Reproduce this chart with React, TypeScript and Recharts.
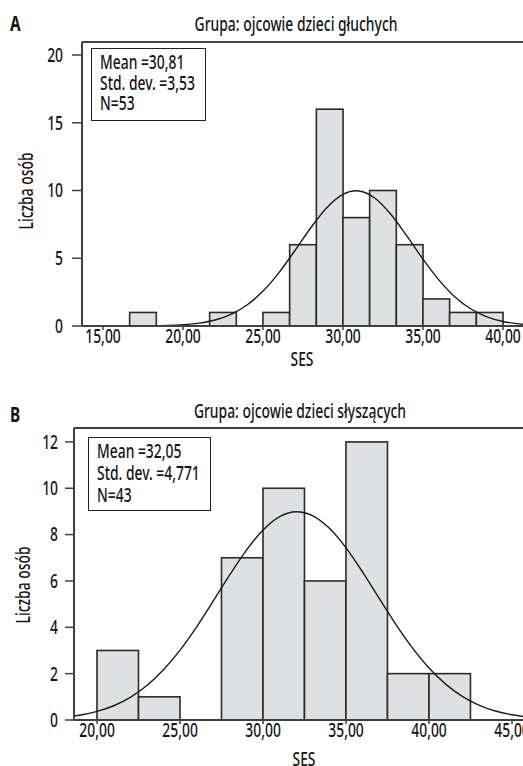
import { ComposedChart, Bar, Line, XAxis, YAxis, ReferenceLine } from 'recharts';

const FONT = "'Noto Sans', 'Open Sans', sans-serif";
const SX = 0.73; // squeeze to mimic the condensed face of the original
const FS = 19;
const FW = 500;
const INK = '#151515';
const AX = '#404040';
const BAR_FILL = '#dfe0e2';
const BAR_STROKE = '#2b2b2b';
const CHART_W = 560;

// --- A: ojcowie dzieci głuchych ---
const binWidthA = 5 / 3;
const binCentersA = [17.5, 22.5, 25.83, 27.5, 29.17, 30.83, 32.5, 34.17, 35.83, 37.5, 39.17];
const countsA = [1, 1, 1, 6, 16, 8, 10, 6, 2, 1, 1];
const curveXA = [14, 15, 16, 17, 18, 19, 20, 21, 22, 23, 24, 25, 26, 27, 28, 29, 30, 30.81, 31, 32, 33, 34, 35, 36, 37, 38, 39, 40, 41, 42, 43];
const curveYA = [0, 0, 0.002, 0.005, 0.014, 0.037, 0.092, 0.21, 0.443, 0.863, 1.552, 2.575, 3.944, 5.574, 7.269, 8.75, 9.72, 9.98, 9.965, 9.43, 8.23, 6.63, 4.934, 3.386, 2.145, 1.254, 0.677, 0.336, 0.155, 0.066, 0.026];
const ticksXA = [15, 20, 25, 30, 35, 40];
const ticksYA = [0, 5, 10, 15, 20];

// --- B: ojcowie dzieci słyszących ---
const binWidthB = 2.5;
const binCentersB = [21.25, 23.75, 28.75, 31.25, 33.75, 36.25, 38.75, 41.25];
const countsB = [3, 1, 7, 10, 6, 12, 2, 2];
const curveXB = [18.61, 19, 20, 21, 22, 23, 24, 25, 26, 27, 28, 29, 30, 31, 32, 33, 34, 35, 36, 37, 38, 39, 40, 41, 42, 43, 44, 45, 46, 47, 48];
const curveYB = [0.17, 0.213, 0.37, 0.615, 0.978, 1.488, 2.166, 3.018, 4.023, 5.135, 6.27, 7.328, 8.196, 8.774, 8.989, 8.813, 8.269, 7.425, 6.381, 5.248, 4.13, 3.112, 2.243, 1.548, 1.022, 0.646, 0.39, 0.226, 0.125, 0.066, 0.034];
const ticksXB = [20, 25, 30, 35, 40, 45];
const ticksYB = [0, 2, 4, 6, 8, 10, 12];

const histA = binCentersA.map((x, i) => ({ x, count: countsA[i] }));
const lineA = curveXA.map((x, i) => ({ x, y: curveYA[i] }));
const histB = binCentersB.map((x, i) => ({ x, count: countsB[i] }));
const lineB = curveXB.map((x, i) => ({ x, y: curveYB[i] }));

const fmt = (v: number) => v.toFixed(2).replace('.', ',');

const SText = ({ x, y, anchor, dy, rotate, children }: any) => (
  <text transform={`translate(${x},${y})${rotate ? ' rotate(-90)' : ''} scale(${SX},1)`} x={0} y={0} dy={dy}
    textAnchor={anchor} fontSize={FS} fontWeight={FW} fontFamily={FONT} fill={INK}>{children}</text>
);

const XTick = ({ x, y, payload }: any) => <SText x={x} y={y} anchor="middle" dy="0.71em">{fmt(payload.value)}</SText>;
const YTick = ({ x, y, payload }: any) => <SText x={x} y={y} anchor="end" dy="0.36em">{payload.value}</SText>;

function Hist({ hist, line, xDomain, yMax, plotH, xTicks, yTicks, yW, top, ytSize, ytMargin, xh, binWidth, sesDx, sesDy, titleDx, titleDy }: any) {
  const pxPerUnit = (CHART_W - yW) / (xDomain[1] - xDomain[0]);
  const binPx = binWidth * pxPerUnit;
  return (
    <ComposedChart width={CHART_W} height={xh + top + plotH} data={hist} margin={{ top, right: 0, bottom: 0, left: 0 }}>
      <XAxis dataKey="x" type="number" domain={xDomain} allowDataOverflow ticks={xTicks} interval={0}
        height={xh} tickSize={4} tickMargin={0}
        axisLine={{ stroke: AX, strokeWidth: 2 }} tickLine={{ stroke: AX, strokeWidth: 1.5 }} tick={<XTick />}
        label={(p: any) => <SText x={p.viewBox.x + sesDx} y={p.viewBox.y + sesDy} anchor="middle">SES</SText>} />
      <YAxis type="number" domain={[0, yMax]} allowDataOverflow ticks={yTicks} interval={0} width={yW}
        tickSize={ytSize} tickMargin={ytMargin}
        axisLine={{ stroke: AX, strokeWidth: 2 }} tickLine={{ stroke: AX, strokeWidth: 1.5 }} tick={<YTick />}
        label={(p: any) => (
          <SText x={p.viewBox.x + titleDx} y={p.viewBox.y + p.viewBox.height / 2 + titleDy} anchor="middle" dy="0.35em" rotate>Liczba osób</SText>
        )} />
      <ReferenceLine y={yMax} stroke={AX} strokeWidth={2} />
      <Bar dataKey="count" barSize={2} isAnimationActive={false}
        shape={(p: any) => (
          <rect x={p.x + p.width / 2 - binPx / 2} y={p.y} width={binPx} height={p.height}
            fill={BAR_FILL} stroke={BAR_STROKE} strokeWidth={1.6} />
        )} />
      <Line data={line} dataKey="y" type="monotone" dot={false} activeDot={false} stroke="#1a1a1a" strokeWidth={1.4} isAnimationActive={false} />
    </ComposedChart>
  );
}

const boxStyle: any = {
  position: 'absolute', background: '#fff', border: '1.5px solid #222', boxSizing: 'border-box',
  fontSize: FS, fontWeight: FW, color: INK, whiteSpace: 'nowrap',
};
const squeezeLeft: any = { transform: `scaleX(${SX})`, transformOrigin: 'left top' };
const squeezeMid: any = { transform: `scaleX(${SX})`, transformOrigin: 'center top' };

export default function App() {
  return (
    <div style={{ position: 'absolute', left: 0, top: 0, width: 523, height: 766, overflow: 'hidden', background: '#fff', fontFamily: FONT }}>
      <div style={{ position: 'absolute', left: 10, top: 13, fontSize: 21, lineHeight: '21px', fontWeight: 'bold', color: INK, ...squeezeLeft }}>A</div>
      <div style={{ position: 'absolute', left: 96, top: 15, width: 400, textAlign: 'center', fontSize: FS, fontWeight: FW, lineHeight: `${FS}px`, color: INK, ...squeezeMid }}>Grupa: ojcowie dzieci głuchych</div>
      <div style={{ position: 'absolute', left: 0, top: 0 }}>
        <Hist hist={histA} line={lineA} xDomain={[13.6875, 43.5625]} yMax={20.96} plotH={284} xTicks={ticksXA} yTicks={ticksYA}
          yW={82} top={42} ytSize={10} ytMargin={9} xh={44} binWidth={binWidthA} sesDx={220} sesDy={40} titleDx={26} titleDy={7} />
      </div>
      <div style={{ ...boxStyle, left: 91, top: 48, width: 115, height: 73, padding: '3px 0 0 8px', lineHeight: '20.5px' }}>
        <div style={squeezeLeft}>Mean =30,81</div>
        <div style={squeezeLeft}>Std. dev. =3,53</div>
        <div style={squeezeLeft}>N=53</div>
      </div>

      <div style={{ position: 'absolute', left: 10, top: 404, fontSize: 21, lineHeight: '21px', fontWeight: 'bold', color: INK, ...squeezeLeft }}>B</div>
      <div style={{ position: 'absolute', left: 100, top: 402, width: 400, textAlign: 'center', fontSize: FS, fontWeight: FW, lineHeight: `${FS}px`, color: INK, ...squeezeMid }}>Grupa: ojcowie dzieci słyszących</div>
      <div style={{ position: 'absolute', left: 0, top: 380 }}>
        <Hist hist={histB} line={lineB} xDomain={[18.61, 47.89]} yMax={12.6} plotH={292} xTicks={ticksXB} yTicks={ticksYB}
          yW={74} top={48} ytSize={9} ytMargin={7} xh={46} binWidth={binWidthB} sesDx={230} sesDy={46} titleDx={23} titleDy={11} />
      </div>
      <div style={{ ...boxStyle, left: 88, top: 437, width: 123, height: 74, padding: '2px 0 0 8px', lineHeight: '22px' }}>
        <div style={squeezeLeft}>Mean =32,05</div>
        <div style={squeezeLeft}>Std. dev. =4,771</div>
        <div style={squeezeLeft}>N=43</div>
      </div>
    </div>
  );
}
